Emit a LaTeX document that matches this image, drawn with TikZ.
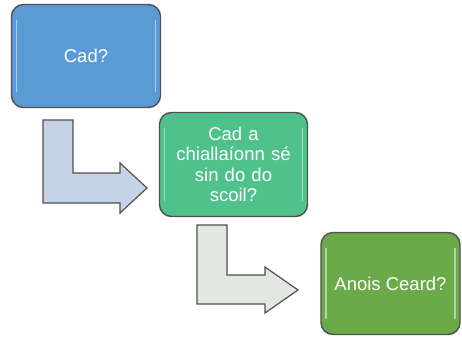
\documentclass[tikz,border=0pt]{standalone}
\usepackage{fontspec}
\setmainfont{Liberation Sans}
\usetikzlibrary{positioning}
\definecolor{cadblue}{RGB}{91,155,213}
\definecolor{scoilgreen}{RGB}{78,194,138}
\definecolor{ceardgreen}{RGB}{106,170,72}
\definecolor{edgegray}{RGB}{80,80,80}
\definecolor{arrowblue}{RGB}{198,210,232}
\definecolor{arrowgray}{RGB}{226,231,226}
\tikzset{
	qbox/.style={draw=edgegray, line width=1.4pt, rounded corners=12pt, text=white,
		font=\fontsize{18.5}{20.5}\selectfont, align=center, inner sep=0pt,
		path picture={
			\draw[white, opacity=.5, line width=1.8pt, line cap=round]
				([shift={(5pt,-16pt)}]path picture bounding box.north west) --
				([shift={(5pt,16pt)}]path picture bounding box.south west);
			\draw[white, opacity=.5, line width=1.8pt, line cap=round]
				([shift={(-5pt,-16pt)}]path picture bounding box.north east) --
				([shift={(-5pt,16pt)}]path picture bounding box.south east);
		}},
	bentarrow/.style={draw=edgegray, line width=1.2pt, line join=miter}
}
\begin{document}
\begin{tikzpicture}[x=1pt, y=-1pt]
	\useasboundingbox (0,0) rectangle (462,338);
	% boxes
	\node[qbox, fill=cadblue, minimum width=149pt, minimum height=103pt] (cad) at (86,56) {Cad?};
	\node[qbox, fill=scoilgreen, minimum width=148pt, minimum height=104pt, text width=140pt] (scoil) at (233.5,164.5)
		{Cad a\\chiallaíonn sé\\sin do do\\scoil?};
	\node[qbox, fill=ceardgreen, minimum width=139pt, minimum height=102pt] (ceard) at (390.5,283.5) {Anois Ceard?};
	% bent arrows
	\filldraw[bentarrow, fill=arrowblue] (43,120) -- (73,120) -- (73,173) -- (120,173) -- (120,163)
		-- (147,188) -- (120,213) -- (120,203) -- (43,203) -- cycle;
	\filldraw[bentarrow, fill=arrowgray] (197,225) -- (227,225) -- (227,275) -- (265,275) -- (265,267)
		-- (298,290) -- (265,313) -- (265,304) -- (197,304) -- cycle;
\end{tikzpicture}
\end{document}
